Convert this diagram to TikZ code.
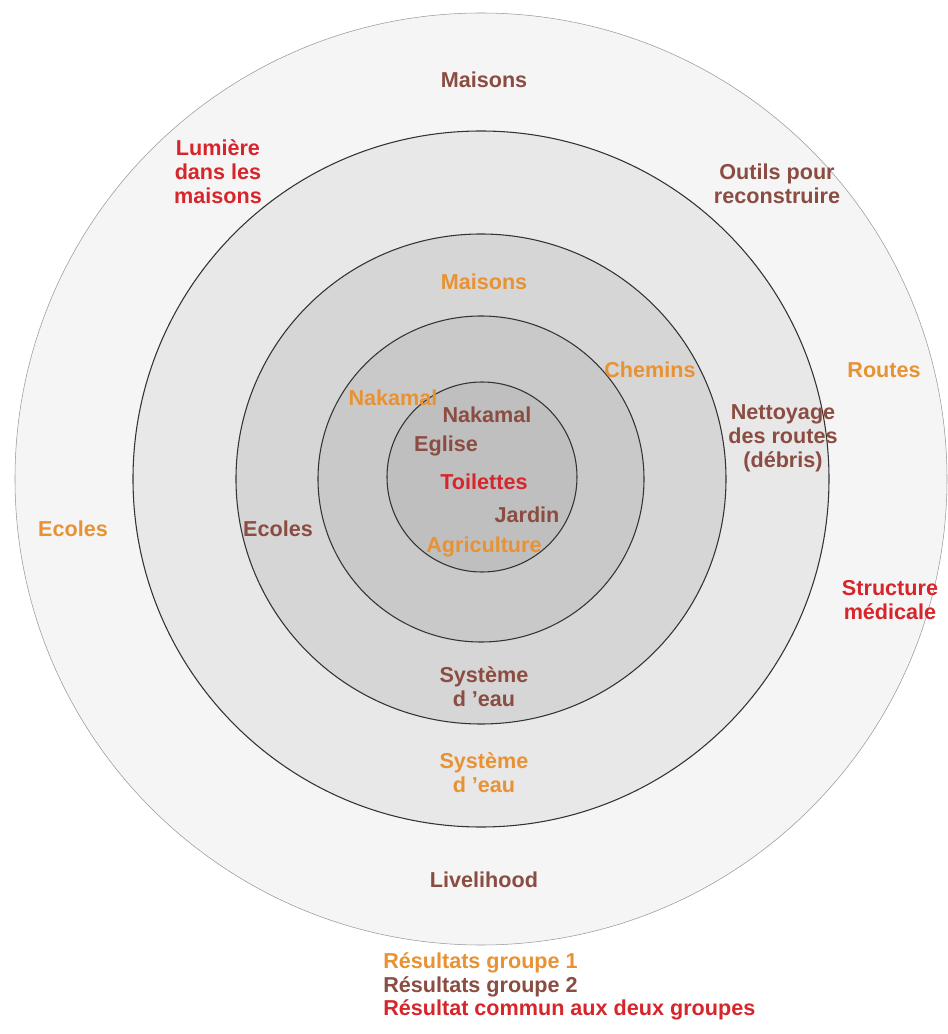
\documentclass[tikz,border=0pt]{standalone}
\usepackage{fontspec}
\setmainfont{Liberation Sans}
\definecolor{orangeun}{RGB}{232,146,52}
\definecolor{brundeux}{RGB}{139,76,66}
\definecolor{rougecommun}{RGB}{214,38,44}
\begin{document}
\begin{tikzpicture}[x=.75pt,y=.75pt]
      \tikzstyle{ring}=[draw=black!80,line width=.8pt]
      \tikzstyle{mot}=[font=\fontsize{16.2}{18}\selectfont\bfseries,align=center,inner sep=0pt]
      \tikzstyle{grpun}=[mot,text=orangeun]
      \tikzstyle{grpdeux}=[mot,text=brundeux]
      \tikzstyle{grpcommun}=[mot,text=rougecommun]
      \useasboundingbox (-481,-555) rectangle (467,479);
      \fill[white] (-481,-555) rectangle (467,479);
      \draw[fill=gray!8,draw=gray!80] (0,0) circle (466);
      \draw[ring,fill=gray!18] (0,0) circle (348);
      \draw[ring,fill=gray!32] (0,0) circle (245);
      \draw[ring,fill=gray!42] (0,0) circle (163);
      \draw[ring,fill=gray!50] (1,2) circle (95);
      \node[grpdeux] (maisonsext) at (3,399) {Maisons};
      \node[grpcommun] (lumiere) at (-263,307) {Lumière\\dans les\\maisons};
      \node[grpdeux] (outils) at (296,295) {Outils pour\\reconstruire};
      \node[grpun] (maisonsint) at (3,197) {Maisons};
      \node[grpun] (chemins) at (169,109) {Chemins};
      \node[grpun] (routes) at (403,109) {Routes};
      \node[grpun] (nakamalun) at (-88,81) {Nakamal};
      \node[grpdeux] (nakamaldeux) at (6,64) {Nakamal};
      \node[grpdeux] (nettoyage) at (302,41) {Nettoyage\\des routes\\(débris)};
      \node[grpdeux] (eglise) at (-35,33) {Eglise};
      \node[grpcommun] (toilettes) at (3,-3) {Toilettes};
      \node[grpdeux] (jardin) at (46,-36) {Jardin};
      \node[grpun] (agriculture) at (3,-68) {Agriculture};
      \node[grpun] (ecolesext) at (-408,-50) {Ecoles};
      \node[grpdeux] (ecolesint) at (-203,-50) {Ecoles};
      \node[grpcommun] (medicale) at (409,-121) {Structure\\médicale};
      \node[grpdeux] (eaudeux) at (3,-208) {Système\\d 'eau};
      \node[grpun] (eauun) at (3,-294) {Système\\d 'eau};
      \node[grpdeux] (livelihood) at (3,-401) {Livelihood};
      \node[grpun,anchor=west] (legun) at (-98,-484) {Résultats groupe 1};
      \node[grpdeux,anchor=west] (legdeux) at (-98,-508) {Résultats groupe 2};
      \node[grpcommun,anchor=west] (legcommun) at (-98,-531) {Résultat commun aux deux groupes};
\end{tikzpicture}
\end{document}
